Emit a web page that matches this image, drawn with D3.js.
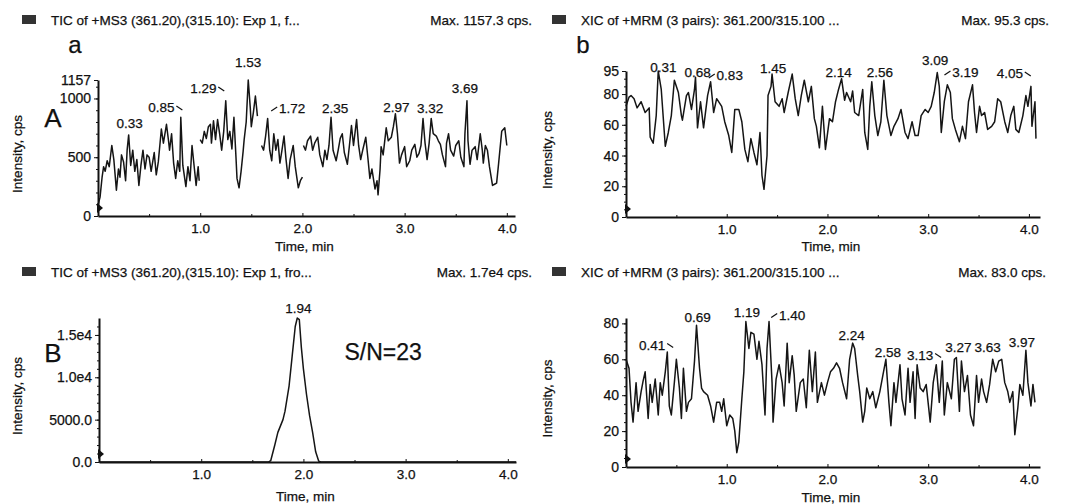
<!DOCTYPE html>
<meta charset="utf-8">
<style>
body { margin: 0; background: #fff; }
svg text { font-family: "Liberation Sans", Arial, sans-serif; fill: #111; stroke: #111; stroke-width: 0.25px; }
.trace { fill: none; stroke: #151515; stroke-width: 1.5px; stroke-linejoin: round; }
.axis path, .axis line { stroke: #111; }
.axis .domain { stroke-width: 2px; }
</style>
<body>
<div id="plotHere"></div>
<script src="https://cdn.jsdelivr.net/npm/d3@7/dist/d3.min.js"></script>
<script>
//------------------------ DATA ------------------------//
// [time (min), intensity (cps)], null = break in trace

const traceA = [
  [0.00,90],[0.02,160],[0.04,330],[0.055,420],[0.07,380],[0.09,470],[0.11,420],[0.135,600],[0.155,480],[0.18,220],
  [0.20,400],[0.215,330],[0.23,520],[0.25,460],[0.27,300],[0.285,560],[0.30,690],[0.32,430],[0.34,560],[0.36,380],
  [0.38,480],[0.40,260],[0.42,430],[0.44,560],[0.46,400],[0.48,520],[0.50,500],[0.52,380],[0.55,540],[0.57,350],
  [0.59,460],[0.62,740],[0.64,620],[0.67,780],[0.69,640],[0.70,560],[0.72,700],[0.74,450],[0.76,320],[0.78,470],
  [0.80,380],[0.81,840],[0.83,430],[0.86,250],[0.88,420],[0.90,300],[0.92,600],[0.94,430],[0.96,260],[0.98,420],[0.99,300],
  null,
  [1.00,650],[1.02,620],[1.04,720],[1.06,660],[1.08,760],[1.10,780],[1.11,620],[1.13,810],[1.15,650],[1.17,820],
  [1.19,700],[1.21,560],[1.23,720],[1.25,980],[1.27,650],[1.29,720],[1.31,570],[1.33,840],[1.35,500],[1.36,320],
  [1.38,240],[1.40,380],[1.42,550],[1.43,650],[1.45,800],[1.47,1157],[1.49,920],[1.50,760],[1.52,880],[1.54,1020],[1.56,850],
  null,
  [1.60,600],[1.62,560],[1.64,680],[1.66,830],[1.68,560],[1.70,470],[1.72,700],[1.74,560],[1.76,650],[1.78,450],
  [1.80,560],[1.82,680],[1.84,480],[1.86,320],[1.88,480],[1.91,600],[1.93,420],[1.96,240],[1.98,300],[2.00,330],
  null,
  [2.01,600],[2.03,560],[2.05,640],[2.08,680],[2.10,560],[2.12,620],[2.15,670],[2.17,520],[2.20,420],[2.22,560],
  [2.24,480],[2.26,600],[2.28,840],[2.30,560],[2.33,470],[2.35,560],[2.37,660],[2.39,700],[2.41,540],[2.44,440],
  [2.46,600],[2.48,770],[2.50,600],[2.53,820],[2.55,600],[2.57,480],[2.59,560],[2.62,670],[2.64,500],[2.66,320],
  [2.68,400],[2.71,230],[2.73,300],[2.74,180],[2.76,400],[2.77,590],[2.79,520],[2.82,750],[2.84,640],[2.87,670],
  [2.89,760],[2.91,870],[2.93,700],[2.95,450],[2.97,520],[3.00,590],[3.02,420],[3.05,470],[3.07,560],[3.10,610],
  [3.12,500],[3.14,530],[3.16,600],[3.18,830],[3.20,620],[3.22,480],[3.24,620],[3.26,830],[3.28,700],[3.31,680],
  [3.33,640],[3.35,610],[3.37,520],[3.40,420],[3.41,620],[3.43,700],[3.45,560],[3.48,510],[3.50,600],[3.53,640],
  [3.55,500],[3.58,420],[3.59,700],[3.61,980],[3.62,640],[3.64,440],[3.66,560],[3.69,590],[3.71,480],[3.74,700],
  [3.76,560],[3.77,450],[3.79,600],[3.81,560],[3.83,420],[3.86,260],[3.88,270],[3.90,280],[3.92,450],[3.95,720],
  [3.98,750],[4.00,600]
];

const traceB = [
  [0.00,72],[0.03,78],[0.05,79],[0.08,77],[0.11,71],[0.15,75],[0.19,68],[0.23,71],[0.24,52],[0.27,48],
  [0.30,66],[0.32,95],[0.35,83],[0.39,46],[0.42,55],[0.45,66],[0.48,89],[0.52,81],[0.55,66],[0.56,63],
  [0.60,79],[0.62,81],[0.65,70],[0.68,83],[0.69,91],[0.71,58],[0.74,75],[0.77,58],[0.81,79],[0.84,88],
  [0.87,68],[0.90,77],[0.95,72],[0.98,62],[1.02,53],[1.05,42],[1.08,70],[1.12,70],[1.15,62],[1.18,44],
  [1.21,36],[1.24,51],[1.27,42],[1.30,34],[1.33,55],[1.35,27],[1.37,18],[1.40,40],[1.41,79],[1.44,85],
  [1.45,93],[1.48,75],[1.52,72],[1.55,77],[1.57,68],[1.61,81],[1.65,93],[1.68,77],[1.71,66],[1.74,79],
  [1.77,89],[1.81,75],[1.84,85],[1.87,64],[1.89,59],[1.92,45],[1.95,72],[1.98,44],[2.02,64],[2.05,62],
  [2.08,75],[2.11,83],[2.14,90],[2.17,76],[2.19,81],[2.23,75],[2.25,82],[2.27,68],[2.31,66],[2.35,83],
  [2.37,55],[2.40,44],[2.42,72],[2.44,88],[2.47,66],[2.50,53],[2.53,62],[2.56,89],[2.59,66],[2.63,53],
  [2.66,59],[2.70,64],[2.73,70],[2.77,55],[2.80,51],[2.84,62],[2.87,53],[2.90,53],[2.93,66],[2.97,70],
  [3.00,68],[3.03,72],[3.06,81],[3.09,94],[3.11,85],[3.13,55],[3.16,75],[3.19,86],[3.22,81],[3.24,64],
  [3.27,57],[3.31,49],[3.34,59],[3.37,51],[3.40,75],[3.44,86],[3.46,68],[3.48,55],[3.51,72],[3.53,66],
  [3.56,68],[3.59,57],[3.63,59],[3.66,62],[3.69,77],[3.72,75],[3.76,62],[3.79,55],[3.82,66],[3.85,72],
  [3.87,57],[3.90,55],[3.94,66],[3.97,79],[3.99,72],[4.02,85],[4.03,59],[4.06,75],[4.07,51]
];

const traceC = [
  [0.00,0],[1.66,0],[1.68,150],[1.72,2000],[1.75,3500],[1.80,5000],[1.82,6000],[1.86,9000],[1.89,12500],
  [1.92,16000],[1.94,17000],[1.96,16800],[1.98,13500],[2.00,11000],[2.03,8000],[2.06,5500],[2.09,3500],
  [2.12,1200],[2.15,100],[2.17,0],[4.08,0]
];

const traceD = [
  [0.00,60],[0.03,55],[0.05,36],[0.07,25],[0.10,47],[0.12,31],[0.15,42],[0.17,48],[0.19,53],[0.22,27],
  [0.24,46],[0.26,36],[0.29,49],[0.32,29],[0.34,47],[0.36,40],[0.39,53],[0.41,64],[0.43,34],[0.45,29],
  [0.48,47],[0.50,60],[0.53,44],[0.55,27],[0.57,55],[0.60,31],[0.62,36],[0.65,38],[0.68,59],[0.70,79],
  [0.73,55],[0.75,44],[0.77,42],[0.81,40],[0.84,34],[0.87,25],[0.90,36],[0.93,36],[0.95,31],[0.97,38],
  [1.00,23],[1.03,29],[1.06,27],[1.08,20],[1.10,8],[1.12,14],[1.15,38],[1.17,53],[1.19,81],[1.22,66],
  [1.24,75],[1.27,74],[1.30,60],[1.32,70],[1.35,57],[1.38,29],[1.40,66],[1.42,81],[1.45,47],[1.46,25],
  [1.49,49],[1.52,57],[1.55,47],[1.57,34],[1.60,69],[1.62,47],[1.65,62],[1.67,51],[1.69,31],[1.73,47],
  [1.76,49],[1.79,33],[1.82,65],[1.85,42],[1.88,64],[1.90,36],[1.94,47],[1.97,40],[2.00,47],[2.03,53],
  [2.06,55],[2.09,58],[2.12,55],[2.15,47],[2.19,38],[2.22,60],[2.25,69],[2.27,66],[2.30,51],[2.32,42],
  [2.35,25],[2.37,31],[2.39,44],[2.42,38],[2.45,42],[2.48,33],[2.52,42],[2.55,51],[2.58,60],[2.61,36],
  [2.63,23],[2.66,47],[2.68,36],[2.72,57],[2.74,38],[2.77,29],[2.80,55],[2.82,36],[2.85,53],[2.87,27],
  [2.89,57],[2.92,44],[2.95,42],[2.98,46],[3.02,25],[3.05,47],[3.08,57],[3.11,36],[3.14,59],[3.16,29],
  [3.19,47],[3.23,38],[3.26,60],[3.28,61],[3.31,31],[3.33,59],[3.36,42],[3.39,51],[3.42,29],[3.45,23],
  [3.48,51],[3.50,36],[3.53,49],[3.55,42],[3.58,36],[3.61,46],[3.64,60],[3.67,53],[3.70,59],[3.73,60],
  [3.76,47],[3.79,42],[3.81,36],[3.84,42],[3.86,18],[3.89,33],[3.91,46],[3.94,40],[3.97,65],[3.99,47],
  [4.02,34],[4.04,46],[4.06,36]
];

// peak labels: [text, time, intensity, leader]
const peaksA = [["0.33",0.31,791,""],["0.85",0.62,928,"\\"],["1.29",1.03,1089,"\\"],["1.53",1.47,1311,""],
  ["1.72",1.90,919,"/"],["2.35",2.32,919,""],["2.97",2.92,928,""],["3.32",3.25,919,""],["3.69",3.59,1089,""]];
const peaksB = [["0.31",0.37,97.6,""],["0.68",0.71,94.3,""],["0.83",1.03,92.4,"/"],["1.45",1.46,96.9,""],
  ["2.14",2.11,94.3,""],["2.56",2.52,94.3,""],["3.09",3.07,102,""],["3.19",3.37,94.3,"/"],["4.05",3.81,93.7,"\\"]];
const peaksC = [["1.94",1.95,18180,""]];
const peaksD = [["0.41",0.26,68.2,"\\"],["0.69",0.71,83.8,""],["1.19",1.20,86.6,""],["1.40",1.65,84.9,"/"],
  ["2.24",2.24,73.7,""],["2.58",2.60,64.2,""],["3.13",2.92,62.6,"\\"],["3.27",3.30,67,""],["3.63",3.59,67,""],["3.97",3.93,69.8,""]];

// axis ticks
const xTicks = [1, 2, 3, 4];
const xMinor = [0.5, 1.5, 2.5, 3.5];
const yTicksA = [0, 500, 1000, 1157], yLabelsA = ["0", "500", "1000", "1157"];
const yTicksB = [0, 20, 40, 60, 80, 95], yLabelsB = ["0", "20", "40", "60", "80", "95"];
const yTicksC = [0, 5000, 10000, 15000], yLabelsC = ["0.0", "5000.0", "1.0e4", "1.5e4"];
const yTicksD = [0, 20, 40, 60, 80], yLabelsD = ["0", "20", "40", "60", "80"];

const titles = ["TIC of +MS3 (361.20),(315.10): Exp 1, f...", "XIC of +MRM (3 pairs): 361.200/315.100 ...",
  "TIC of +MS3 (361.20),(315.10): Exp 1, fro...", "XIC of +MRM (3 pairs): 361.200/315.100 ..."];
const maxes = ["Max. 1157.3 cps.", "Max. 95.3 cps.", "Max. 1.7e4 cps.", "Max. 83.0 cps."];

//------------------------ LAYOUT ------------------------//
const panels = [
  {data: traceA, peaks: peaksA, yt: yTicksA, yl: yLabelsA, ymax: 1157, ymin: 100, xmax: 4.08,
   xr: [98, 515], yr: [216, 80], left: 0, maxEnd: 532, titleY: 25, xlabY: 251, letter: "a", letterX: 75, big: "A", bigY: 127},
  {data: traceB, peaks: peaksB, yt: yTicksB, yl: yLabelsB, ymax: 95, ymin: 5, xmax: 4.11,
   xr: [626, 1040], yr: [217, 71], left: 530, maxEnd: 1049, titleY: 25, xlabY: 251, letter: "b", letterX: 583},
  {data: traceC, peaks: peaksC, yt: yTicksC, yl: yLabelsC, ymax: 17000, ymin: 1000, xmax: 4.08,
   xr: [99, 516], yr: [462, 318], left: 0, maxEnd: 532, titleY: 277, xlabY: 501, big: "B", bigY: 362},
  {data: traceD, peaks: peaksD, yt: yTicksD, yl: yLabelsD, ymax: 83, ymin: 5, xmax: 4.11,
   xr: [626, 1040], yr: [467, 318], left: 530, maxEnd: 1046, titleY: 277, xlabY: 502}
];

const svg = d3.select("#plotHere").append("svg")
    .attr("width", 1065)
    .attr("height", 504);

panels.forEach(function(p, i) {
  const x = d3.scaleLinear().domain([0, p.xmax]).range(p.xr);
  const y = d3.scaleLinear().domain([0, p.ymax]).range(p.yr);
  const g = svg.append("g");

  // title row
  g.append("rect").attr("x", p.left + 22).attr("y", p.titleY - 10)
      .attr("width", 14).attr("height", 9).attr("fill", "#333");
  g.append("text").attr("x", p.left + 51).attr("y", p.titleY)
      .style("font-size", "13.5px").text(titles[i]);
  g.append("text").attr("x", p.maxEnd).attr("y", p.titleY)
      .attr("text-anchor", "end").style("font-size", "13.5px").text(maxes[i]);

  if (p.letter) g.append("text").attr("x", p.letterX).attr("y", 53)
      .attr("text-anchor", "middle").style("font-size", "24px").text(p.letter);
  if (p.big) g.append("text").attr("x", 53).attr("y", p.bigY)
      .attr("text-anchor", "middle").style("font-size", "26px").text(p.big);

  // axes
  g.append("g").attr("class", "axis")
      .attr("transform", "translate(0," + p.yr[0] + ")")
      .call(d3.axisBottom(x).tickValues(xTicks).tickSize(-3).tickSizeOuter(0).tickPadding(7)
        .tickFormat(d3.format(".1f")))
      .call(a => a.selectAll("text").style("font-size", "13.5px").style("font-family", "Liberation Sans, Arial"));
  g.append("g").attr("class", "axis")
      .attr("transform", "translate(0," + p.yr[0] + ")")
      .call(d3.axisBottom(x).tickValues(xMinor).tickSize(-2).tickSizeOuter(0).tickFormat(""))
      .call(a => a.select(".domain").remove());

  g.append("g").attr("class", "axis")
      .attr("transform", "translate(" + p.xr[0] + ",0)")
      .call(d3.axisLeft(y).tickValues(p.yt).tickSize(4).tickSizeOuter(0).tickPadding(3)
        .tickFormat((d, k) => p.yl[k]))
      .call(a => a.selectAll("text").style("font-size", "14px").style("font-family", "Liberation Sans, Arial"));
  g.append("g").attr("class", "axis")
      .attr("transform", "translate(" + p.xr[0] + ",0)")
      .call(d3.axisLeft(y).tickValues(d3.range(0, p.ymax, p.ymin)).tickSize(2).tickFormat(""))
      .call(a => a.select(".domain").remove());

  // axis labels
  g.append("text").attr("x", (p.xr[0] + p.xr[1]) / 2 - 2).attr("y", p.xlabY)
      .attr("text-anchor", "middle").style("font-size", "13.5px").text("Time, min");
  g.append("text")
      .attr("transform", "translate(" + (p.left + 22) + "," + ((p.yr[0] + p.yr[1]) / 2 + 6) + ") rotate(-90)")
      .attr("text-anchor", "middle").style("font-size", "13.5px").text("Intensity, cps");

  // trace
  const line = d3.line().defined(d => d !== null).x(d => x(d[0])).y(d => y(d[1]));
  g.append("path").datum(p.data).attr("class", "trace").attr("d", line);

  // start marker
  g.append("path")
      .attr("d", "M" + (p.xr[0] - 1) + "," + (p.yr[0] - 13) + "l6,5l-6,5z")
      .attr("fill", "#111");

  // peak labels
  p.peaks.forEach(function(pk) {
    const px = x(pk[1]), py = y(pk[2]);
    g.append("text").attr("x", px).attr("y", py + 5)
        .attr("text-anchor", "middle").style("font-size", "13.5px").text(pk[0]);
    if (pk[3] === "\\") g.append("path").attr("d", "M" + (px + 15) + "," + (py - 1) + "l6,4")
        .attr("stroke", "#111").attr("stroke-width", 1.2).attr("fill", "none");
    if (pk[3] === "/") g.append("path").attr("d", "M" + (px - 21) + "," + (py + 3) + "l6,-4")
        .attr("stroke", "#111").attr("stroke-width", 1.2).attr("fill", "none");
  });
});

// S/N annotation in panel B
const yC = d3.scaleLinear().domain([0, 17000]).range([462, 318]);
const xC = d3.scaleLinear().domain([0, 4.08]).range([99, 516]);
svg.append("text").attr("x", xC(2.78)).attr("y", yC(13000) + 8)
    .attr("text-anchor", "middle").style("font-size", "23px").text("S/N=23");
</script>
</body>
